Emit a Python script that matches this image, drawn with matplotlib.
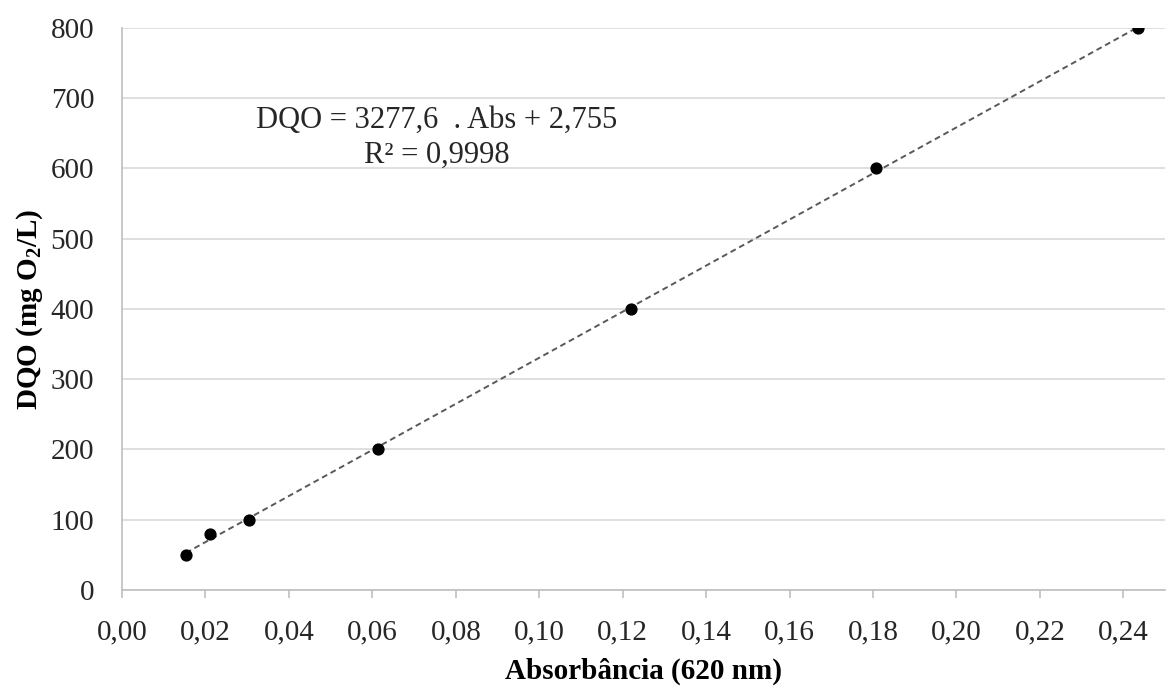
import numpy as np
import matplotlib
matplotlib.use("Agg")
import matplotlib.pyplot as plt
from matplotlib.ticker import FuncFormatter, MultipleLocator

absorbancia = [0.0153, 0.0211, 0.0304, 0.0613, 0.1219, 0.1808, 0.2436]
dqo = [50, 80, 100, 200, 400, 600, 800]
eq_text = "DQO = 3277,6  . Abs + 2,755"
r2_text = "R² = 0,9998"

plt.rcParams['font.family'] = ['Liberation Serif', 'DejaVu Serif']
plt.rcParams['mathtext.fontset'] = 'custom'
plt.rcParams['mathtext.rm'] = 'Liberation Serif'
plt.rcParams['mathtext.bf'] = 'Liberation Serif:bold'

fig = plt.figure(figsize=(11.68, 6.89), dpi=100)
ax = fig.add_axes([0.1045, 0.1437, 0.893, 0.8157])

x = np.array(absorbancia)
y = np.array(dqo)
m, b = np.polyfit(x, y, 1)
xs = np.array([x.min(), x.max()])
ax.plot(xs, m * xs + b, linestyle=(0, (3, 2)), color='#595959', linewidth=1.4, zorder=2)
ax.plot(x, y, 'o', color='black', markersize=7.8, zorder=3)

ax.set_xlim(0, 0.25)
ax.set_ylim(0, 800)
ax.yaxis.set_major_locator(MultipleLocator(100))
ax.set_xticks(np.arange(0, 0.2401, 0.02))
ax.xaxis.set_major_formatter(FuncFormatter(lambda v, p: f"{v:.2f}".replace('.', ',')))
ax.yaxis.set_major_formatter(FuncFormatter(lambda v, p: f"{int(round(v))}"))

ax.grid(axis='y', color='#d9d9d9', linewidth=1.2)
ax.set_axisbelow(True)
for s in ['top', 'right']:
    ax.spines[s].set_visible(False)
for s in ['left', 'bottom']:
    ax.spines[s].set_color('#bfbfbf')
    ax.spines[s].set_linewidth(1.2)
ax.tick_params(axis='x', colors='#bfbfbf', length=6, width=1.2, labelcolor='#262626', labelsize=21, pad=15)
ax.tick_params(axis='y', length=0, labelcolor='#262626', labelsize=21, pad=20)

ax.set_xlabel('Absorbância (620 nm)', fontsize=21, fontweight='bold', labelpad=9)
ax.set_ylabel(r'DQO (mg O$_\mathbf{2}$/L)', fontsize=21, fontweight='bold', labelpad=4)

ax.text(0.0755, 669, eq_text, fontsize=22, ha='center', va='center', color='#262626')
ax.text(0.0755, 619, r2_text, fontsize=22, ha='center', va='center', color='#262626')

fig.savefig('out.png', dpi=100)
